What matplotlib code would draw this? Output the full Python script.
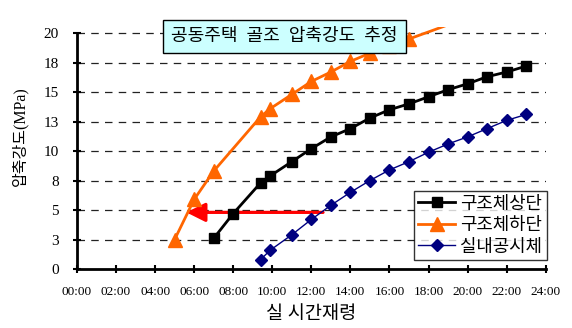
import matplotlib
matplotlib.use('Agg')
import matplotlib.pyplot as plt

plt.rcParams['font.family'] = ['Liberation Serif', 'Noto Sans CJK KR']

# hours of real age / compressive strength (MPa)
top_x = [7, 8, 9.4, 9.9, 11, 12, 13, 14, 15, 16, 17, 18, 19, 20, 21, 22, 23]
top_y = [2.6, 4.7, 7.3, 7.9, 9.1, 10.2, 11.2, 11.9, 12.8, 13.5, 14.0, 14.6,
         15.2, 15.7, 16.3, 16.7, 17.2]

bottom_x = [5, 6, 7, 9.4, 9.9, 11, 12, 13, 14, 15, 16, 17, 18, 19]
bottom_y = [2.5, 5.9, 8.3, 12.9, 13.6, 14.8, 15.9, 16.7, 17.6, 18.3, 18.9,
            19.5, 20.1, 20.7]

indoor_x = [9.4, 9.9, 11, 12, 13, 14, 15, 16, 17, 18, 19, 20, 21, 22, 23]
indoor_y = [0.8, 1.6, 2.9, 4.2, 5.4, 6.5, 7.5, 8.4, 9.1, 9.9, 10.6, 11.2,
            11.9, 12.6, 13.1]

series_names = ['구조체상단', '구조체하단', '실내공시체']
title = '공동주택  골조  압축강도  추정'
x_title = '실 시간재령'
y_title = '압축강도(MPa)'

y_ticks = [0, 2.5, 5, 7.5, 10, 12.5, 15, 17.5, 20]
y_labels = ['0', '3', '5', '8', '10', '13', '15', '18', '20']
x_ticks = list(range(0, 25, 2))
x_labels = [f'{h:02d}:00' for h in x_ticks]

arrow_start = (12.6, 4.8)
arrow_end = (5.6, 4.8)

y_max = 20

fig = plt.figure(figsize=(5.72, 3.28), dpi=100)
ax = fig.add_axes([0.1346, 0.1799, 0.8194, 0.739])


def text_px(s, size):
    # width of a string in pixels at a given font size
    t = fig.text(0, 0, s, fontsize=size)
    fig.canvas.draw()
    w = t.get_window_extent().width
    t.remove()
    return w


title_fs = 10 * 227 / text_px(title, 10)
leg_fs = 10 * 82 / text_px(series_names[0], 10)
xlab_fs = 10 * 90 / text_px(x_title, 10)

for y in y_ticks[1:]:
    ax.plot([0, 24], [y, y], color='#222222', lw=0.9, dashes=(6, 5), zorder=1)

ax.annotate('', xy=arrow_end, xytext=arrow_start,
            arrowprops=dict(arrowstyle='-|>,head_length=1.0,head_width=0.5',
                            mutation_scale=11.5, color='#FF0000', lw=2.3,
                            shrinkA=0, shrinkB=0),
            zorder=2)

ax.plot(top_x, top_y, color='black', lw=2, marker='s', markersize=7, zorder=3)
ax.plot(bottom_x, bottom_y, color='#FF6600', lw=2, zorder=3)
bx = [x for x, y in zip(bottom_x, bottom_y) if y <= y_max]
by = [y for y in bottom_y if y <= y_max]
ax.plot(bx, by, color='#FF6600', lw=0, marker='^', markersize=10, zorder=3)
ax.plot(indoor_x, indoor_y, color='#000080', lw=1, marker='D', markersize=6,
        zorder=3)

# legend handles
ax.plot([], [], color='black', lw=2, marker='s', markersize=7,
        label=series_names[0])
ax.plot([], [], color='#FF6600', lw=2, marker='^', markersize=10,
        label=series_names[1])
ax.plot([], [], color='#000080', lw=1, marker='D', markersize=6,
        label=series_names[2])

ax.set_xlim(0, 24)
ax.set_ylim(0, 20.55)
ax.spines['top'].set_visible(False)
ax.spines['right'].set_visible(False)
ax.spines['left'].set_bounds(0, 20)
ax.spines['left'].set_linewidth(2)
ax.spines['bottom'].set_linewidth(2)

ax.set_yticks(y_ticks)
ax.set_yticklabels(y_labels, fontsize=11)
ax.set_xticks(x_ticks)
ax.set_xticklabels(x_labels, fontsize=9.5)
ax.tick_params(axis='both', direction='inout', length=6, width=1.5)
ax.tick_params(axis='x', pad=9)
ax.tick_params(axis='y', pad=10)

ax.set_xlabel(x_title, fontsize=xlab_fs, labelpad=6)
ax.set_ylabel(y_title, fontsize=11.5)
ax.yaxis.set_label_coords(-0.104, 0.55)

pad_pt = 8 * 0.72
ax.text((163 + 8) / 572, 1 - 36.5 / 328, title,
        transform=fig.transFigure, fontsize=title_fs, va='center', ha='left',
        zorder=5,
        bbox=dict(boxstyle=f'square,pad={pad_pt / title_fs:.3f}',
                  facecolor='#CCFFFF', edgecolor='black', lw=1))

leg_em = leg_fs * 100 / 72
leg = ax.legend(loc='lower right', bbox_to_anchor=(1.002, 0.037),
                fontsize=leg_fs, frameon=True, fancybox=False,
                edgecolor='black', borderpad=0.25, labelspacing=0.25,
                handlelength=37 / leg_em, handletextpad=5 / leg_em,
                borderaxespad=0)
leg.get_frame().set_linewidth(1)
leg.set_zorder(6)

fig.savefig('out.png', dpi=100)
